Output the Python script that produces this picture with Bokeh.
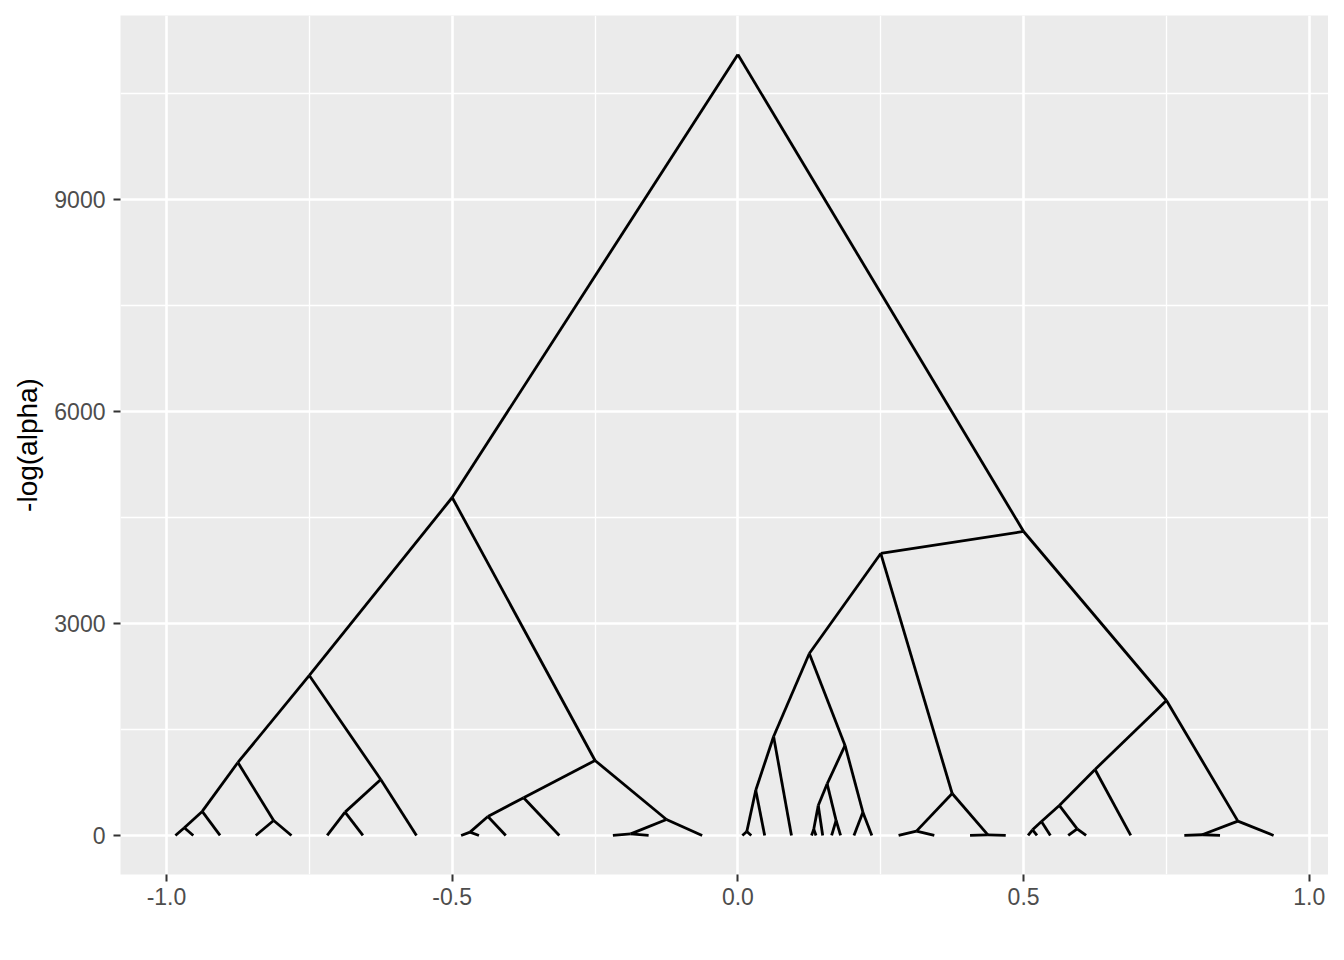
from bokeh.plotting import figure
from bokeh.models import Range1d, FixedTicker, PrintfTickFormatter, ColumnDataSource
from bokeh.embed import file_html
from bokeh.resources import INLINE

# Dendrogram nodes: x position, height -log(alpha), parent index (-1 = root)
node_x = [
    0.0, -0.5, 0.5, -0.75, -0.25, -0.875, -0.625, -0.9375, -0.8125, -0.96875,
    -0.90625, -0.984375, -0.953125, -0.84375, -0.78125, -0.6875, -0.5625, -0.71875, -0.65625, -0.375,
    -0.125, -0.4375, -0.3125, -0.46875, -0.40625, -0.484375, -0.453125, -0.1875, -0.0625, -0.21875,
    -0.15625, 0.25, 0.75, 0.125, 0.375, 0.0625, 0.1875, 0.03125, 0.09375, 0.015625,
    0.046875, 0.0078125, 0.0234375, 0.15625, 0.21875, 0.140625, 0.171875, 0.1328125, 0.1484375, 0.12890625,
    0.13671875, 0.1640625, 0.1796875, 0.203125, 0.234375, 0.3125, 0.4375, 0.28125, 0.34375, 0.40625,
    0.46875, 0.625, 0.875, 0.5625, 0.6875, 0.53125, 0.59375, 0.515625, 0.546875, 0.5078125,
    0.5234375, 0.578125, 0.609375, 0.8125, 0.9375, 0.78125, 0.84375,
]
node_y = [
    11052, 4783, 4302, 2264, 1061, 1033, 792, 340, 212, 109,
    0, 0, 0, 0, 0, 330, 0, 0, 0, 533,
    226, 269, 0, 47, 0, 0, 0, 22, 0, 0,
    0, 3991, 1910, 2575, 594, 1401, 1274, 640, 0, 55,
    0, 0, 0, 731, 330, 425, 212, 90, 0, 0,
    0, 0, 0, 0, 0, 61, 8, 0, 0, 0,
    0, 934, 203, 425, 0, 198, 94, 80, 0, 0,
    0, 0, 0, 10, 0, 0, 0,
]
node_parent = [
    -1, 0, 0, 1, 1, 3, 3, 5, 5, 7,
    7, 9, 9, 8, 8, 6, 6, 15, 15, 4,
    4, 19, 19, 21, 21, 23, 23, 20, 20, 27,
    27, 2, 2, 31, 31, 33, 33, 35, 35, 37,
    37, 39, 39, 36, 36, 43, 43, 45, 45, 47,
    47, 46, 46, 44, 44, 34, 34, 55, 55, 56,
    56, 32, 32, 61, 61, 63, 63, 65, 65, 67,
    67, 66, 66, 62, 62, 73, 73,
]

x_ticks = [-1.0, -0.5, 0.0, 0.5, 1.0]
x_minor = [-0.75, -0.25, 0.25, 0.75]
y_ticks = [0, 3000, 6000, 9000]
y_minor = [1500, 4500, 7500, 10500]
y_title = "-log(alpha)"

seg = dict(x0=[], y0=[], x1=[], y1=[])
for i, par in enumerate(node_parent):
    if par < 0:
        continue
    seg["x0"].append(node_x[par]); seg["y0"].append(node_y[par])
    seg["x1"].append(node_x[i]); seg["y1"].append(node_y[i])
src = ColumnDataSource(seg)

xmin, xmax = min(node_x), max(node_x)
ymin, ymax = min(node_y), max(node_y)
dx = (xmax - xmin) * 0.05
dy = (ymax - ymin) * 0.05

p = figure(width=1328, height=944, output_backend="svg", toolbar_location=None,
           x_range=Range1d(xmin - dx, xmax + dx), y_range=Range1d(ymin - dy, ymax + dy),
           min_border_left=120, min_border_right=0, min_border_top=15, min_border_bottom=70)
p.background_fill_color = "#EBEBEB"
p.border_fill_color = "white"
p.outline_line_color = None

p.segment(x0="x0", y0="y0", x1="x1", y1="y1", source=src, line_color="black", line_width=2.8)

p.xaxis.ticker = FixedTicker(ticks=x_ticks, minor_ticks=x_minor)
p.yaxis.ticker = FixedTicker(ticks=y_ticks, minor_ticks=y_minor)
p.xaxis.formatter = PrintfTickFormatter(format="%.1f")
p.yaxis.formatter = PrintfTickFormatter(format="%d")

for ax in (p.xaxis[0], p.yaxis[0]):
    ax.axis_line_color = None
    ax.major_tick_line_color = "#333333"
    ax.major_tick_line_width = 2
    ax.major_tick_out = 7
    ax.major_tick_in = 0
    ax.minor_tick_line_color = None
    ax.major_label_text_font = "Liberation Sans"
    ax.major_label_text_font_size = "23px"
    ax.major_label_text_color = "#4D4D4D"
p.xaxis.major_label_standoff = 6
p.yaxis.major_label_standoff = 8

p.yaxis.axis_label = y_title
p.yaxis.axis_label_text_font = "Liberation Sans"
p.yaxis.axis_label_text_font_size = "28px"
p.yaxis.axis_label_text_font_style = "normal"
p.yaxis.axis_label_text_color = "black"
p.yaxis.axis_label_standoff = 8

for g in (p.xgrid[0], p.ygrid[0]):
    g.grid_line_color = "white"
    g.grid_line_width = 2.6
    g.minor_grid_line_color = "white"
    g.minor_grid_line_width = 1.3
p.xgrid.ticker = p.xaxis[0].ticker
p.ygrid.ticker = p.yaxis[0].ticker

open("out.html", "w").write(file_html(p, INLINE))
